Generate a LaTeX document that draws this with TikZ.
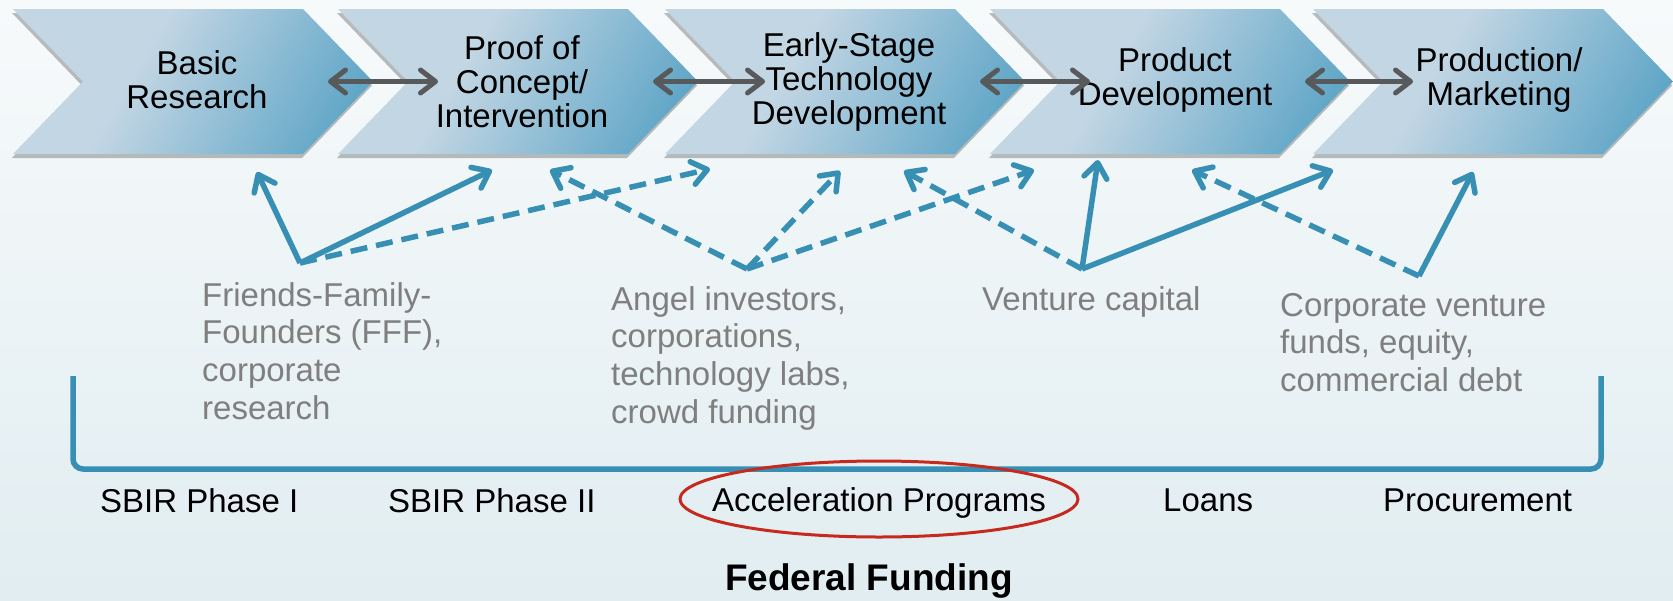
\documentclass[tikz,border=0pt]{standalone}
\usepackage{fontspec}
\setmainfont{Liberation Sans}
\usetikzlibrary{arrows.meta, shadows}

\definecolor{chevlight}{HTML}{C3D6E4}
\definecolor{chevdark}{HTML}{4398BE}
\definecolor{flowblue}{HTML}{3790B3}
\definecolor{linkgray}{HTML}{58595B}
\definecolor{srcgray}{HTML}{7F7F7F}
\definecolor{ovalred}{HTML}{C62A1F}
\definecolor{bgtop}{HTML}{F7FAFB}
\definecolor{bgbottom}{HTML}{E1EDF1}

\pgfdeclarehorizontalshading{chevshade}{100bp}{color(0bp)=(chevlight); color(40bp)=(chevlight); color(88bp)=(chevdark); color(100bp)=(chevdark)}

% one stage: x of the top left corner, prefix for its notch/tip coordinates
\newcommand{\chevron}[2]{%
  \path[chevron] (#1,9) -- ++(290,0) -- ++(70,72.5) -- ++(-70,72.5)
    -- ++(-290,0) -- ++(70,-72.5) -- cycle;
  \coordinate (#2-notch) at (#1+70,81.5);
  \coordinate (#2-tip) at (#1+360,81.5);
}

\begin{document}
\begin{tikzpicture}[
    x=1pt, y=-1pt,
    chevron/.style={shading=chevshade, shading angle=-30,
      drop shadow={shadow xshift=-1pt, shadow yshift=-4pt, opacity=0.25, fill=black}},
    stage/.style={font=\fontsize{33}{34}\selectfont, align=center},
    source/.style={font=\fontsize{33}{37.7}\selectfont, text=srcgray, align=left, anchor=north west, inner sep=0pt},
    program/.style={font=\fontsize{33}{36}\selectfont, anchor=base west, inner sep=0pt},
    link/.style={draw=linkgray, line width=5pt, {Straight Barb[length=15pt, width=23pt, round]}-{Straight Barb[length=15pt, width=23pt, round]}},
    fund/.style={draw=flowblue, line width=5.5pt, -{Straight Barb[length=15pt, width=23pt, round]}},
    funddash/.style={fund, dash pattern=on 17pt off 9pt}
]

% Background
\fill[top color=bgtop, bottom color=bgbottom] (0,0) rectangle (1673,600);
\useasboundingbox (0,0) rectangle (1673,600);

% Stages
\chevron{13}{basic}
\chevron{338}{proof}
\chevron{665}{early}
\chevron{990}{product}
\chevron{1313}{market}

\node[stage] (basic) at (197,80) {Basic\\Research};
\node[stage] (proof) at (522,82) {Proof of\\Concept/\\Intervention};
\node[stage] (early) at (849,82) {Early-Stage\\Technology\\Development};
\node[stage] (product) at (1175,80) {Product\\Development};
\node[stage] (market) at (1499,80) {Production/\\Marketing};

% Links between stages
\draw[link] ([xshift=-45pt]basic-tip) -- ([xshift=30pt]proof-notch);
\draw[link] ([xshift=-45pt]proof-tip) -- ([xshift=30pt]early-notch);
\draw[link] ([xshift=-45pt]early-tip) -- ([xshift=30pt]product-notch);
\draw[link] ([xshift=-45pt]product-tip) -- ([xshift=30pt]market-notch);

% Private sources
\node[source] (fff-text) at (202,282) {Friends-Family-\\Founders (FFF),\\corporate\\research};
\node[source] (angel-text) at (611,286) {Angel investors,\\corporations,\\technology labs,\\crowd funding};
\node[source] (vc-text) at (982,286) {Venture capital};
\node[source] (corp-text) at (1280,293) {Corporate venture\\funds, equity,\\commercial debt};

\coordinate (fff) at (300,263);
\coordinate (angel) at (747,269);
\coordinate (vc) at (1082,269);
\coordinate (corp) at (1419,276);

% Arrow ends under the stages
\coordinate (basic-in) at (257,172);
\coordinate (proof-in1) at (492,170);
\coordinate (proof-in2) at (550,170);
\coordinate (early-in1) at (710,169);
\coordinate (early-in2) at (840,171);
\coordinate (early-in3) at (904,171);
\coordinate (product-in1) at (1034,170);
\coordinate (product-in2) at (1098,160);
\coordinate (product-in3) at (1192,170);
\coordinate (market-in1) at (1333,170);
\coordinate (market-in2) at (1473,172);

% Funding arrows
\draw[fund] (fff) -- (basic-in);
\draw[fund] (fff) -- (proof-in1);
\draw[funddash] (fff) -- (early-in1);
\draw[funddash] (angel) -- (proof-in2);
\draw[funddash] (angel) -- (early-in2);
\draw[funddash] (angel) -- (product-in1);
\draw[funddash] (vc) -- (early-in3);
\draw[fund] (vc) -- (product-in2);
\draw[fund] (vc) -- (market-in1);
\draw[funddash] (corp) -- (product-in3);
\draw[fund] (corp) -- (market-in2);

% Federal bracket
\draw[flowblue, line width=5.5pt, rounded corners=10pt] (73,376) -- (73,469) -- (1601,469) -- (1601,376);

\node[program] (sbir1) at (100,512) {SBIR Phase I};
\node[program] (sbir2) at (388,512) {SBIR Phase II};
\node[program, anchor=base] (accel) at (879,511) {Acceleration Programs};
\node[program] (loans) at (1163,511) {Loans};
\node[program] (procure) at (1383,511) {Procurement};
\draw[ovalred, line width=3pt] (879,499) ellipse [x radius=199pt, y radius=38pt];

\node[font=\fontsize{37}{40}\selectfont\bfseries, anchor=base] (federal) at (869,590) {Federal Funding};

\end{tikzpicture}
\end{document}
